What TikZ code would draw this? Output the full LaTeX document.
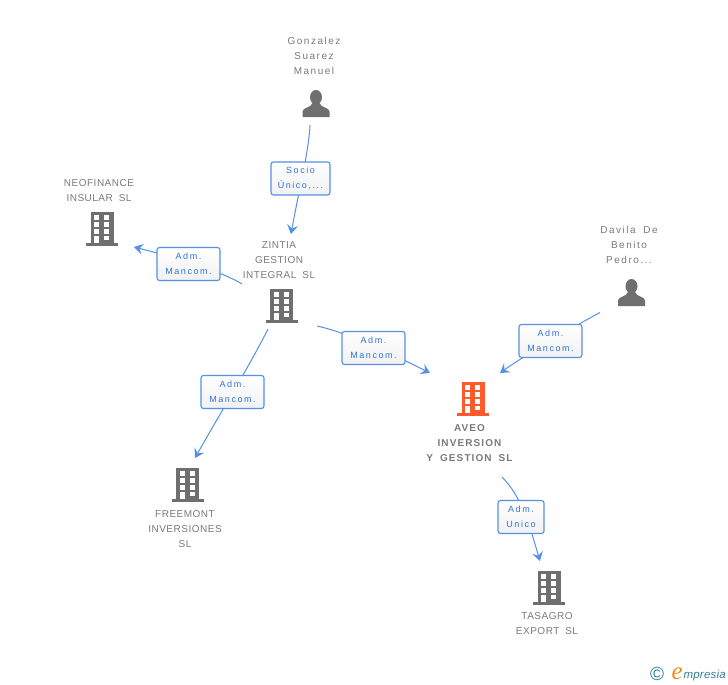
\documentclass[tikz,border=0pt]{standalone}
\usepackage{fontspec}
\setmainfont[LetterSpace=5,WordSpace=1.8]{Liberation Sans}
\newfontfamily\logofont{Liberation Sans}
\newfontfamily\logoinitial{Liberation Serif}
\usetikzlibrary{arrows.meta}
\definecolor{iconGray}{HTML}{6F6F6F}
\definecolor{iconOrange}{HTML}{FF5A2E}
\definecolor{nameGray}{HTML}{7A7A7A}
\definecolor{linkBlue}{HTML}{5590E6}
\definecolor{roleBlue}{HTML}{2F74DC}
\definecolor{boxShade}{HTML}{F1F1F1}
\definecolor{logoTeal}{HTML}{2F7F95}
\definecolor{logoOrange}{HTML}{F28A1E}
\tikzset{
  namelabel/.style={text=nameGray, font=\fontsize{10}{15}\selectfont, align=center, inner sep=0pt},
  personlabel/.style={namelabel, font=\fontsize{10}{15}\selectfont\addfontfeature{LetterSpace=15}},
  mainlabel/.style={namelabel, font=\fontsize{10}{15}\selectfont\bfseries\addfontfeature{LetterSpace=11}},
  rolebox/.style={draw=linkBlue, line width=1.1pt, rounded corners=2.5pt, top color=white, bottom color=boxShade,
    text=roleBlue, font=\fontsize{9}{15}\selectfont\addfontfeature{LetterSpace=17}, align=center, inner sep=0pt, minimum height=33pt},
  link/.style={draw=linkBlue, line width=1pt},
  tip/.style={-{Stealth[length=9pt, width=11pt, inset=3.5pt]}},
  pics/building/.style={code={
    \fill[#1] (-11.5,0) rectangle (11.5,31);
    \fill[#1] (-16,31) rectangle (16,34);
    \foreach \r in {3.3,10.3,17} {
      \fill[white] (-7.7,\r) rectangle (-2.7,\r+4.7);
      \fill[white] (2.3,\r) rectangle (7.3,\r+4.7);
    }
    \fill[white] (-7.7,23.5) rectangle (-2.7,31); % door
    \fill[white] (2.3,23.5) rectangle (7.3,28);
  }},
  pics/person/.style={code={
    \fill[#1] (0,7.2) ellipse (6 and 7.2);
    \fill[#1] (-13.5,27) -- (-13.5,21.5) .. controls (-13.5,17.5) and (-5,18) .. (-3.5,13)
      -- (3.5,13) .. controls (5,18) and (13.5,17.5) .. (13.5,21.5) -- (13.5,27) -- cycle;
  }}
}
\begin{document}
\begin{tikzpicture}[x=1pt, y=-1pt]
    \useasboundingbox (0,0) rectangle (728,685);
    % Free ends of the links
    \coordinate (gonzalezOut) at (310,125);
    \coordinate (zintiaIn) at (291,234);
    \coordinate (zintiaOutA) at (242,284);
    \coordinate (neoIn) at (134,247);
    \coordinate (zintiaOutB) at (317,326);
    \coordinate (aveoInA) at (430,373);
    \coordinate (davilaOut) at (600,312.5);
    \coordinate (aveoInB) at (500,373);
    \coordinate (zintiaOutC) at (268,329);
    \coordinate (freemontIn) at (195,458);
    \coordinate (aveoOut) at (502,477);
    \coordinate (tasagroIn) at (540,561);

    % Icons
    \pic (gonzalezIcon) at (316,90) {person=iconGray};
    \pic (davilaIcon) at (631.5,279) {person=iconGray};
    \pic (neoIcon) at (102,212) {building=iconGray};
    \pic (zintiaIcon) at (281.5,289) {building=iconGray};
    \pic (aveoIcon) at (473,382) {building=iconOrange};
    \pic (freemontIcon) at (187.5,468) {building=iconGray};
    \pic (tasagroIcon) at (549,571) {building=iconGray};

    % Names
    \node[personlabel] (gonzalez) at (314,56) {Gonzalez\\Suarez\\Manuel};
    \node[personlabel] (davila) at (629,245) {Davila De\\Benito\\Pedro...};
    \node[namelabel] (neo) at (99,190.5) {NEOFINANCE\\INSULAR SL};
    \node[namelabel] (zintia) at (279,260) {ZINTIA\\GESTION\\INTEGRAL SL};
    \node[mainlabel] (aveo) at (469.5,443) {AVEO\\INVERSION\\Y GESTION SL};
    \node[namelabel] (freemont) at (185,529) {FREEMONT\\INVERSIONES\\SL};
    \node[namelabel] (tasagro) at (547,623.5) {TASAGRO\\EXPORT SL};

    % Links first, boxes go over them
    \draw[link, tip] (gonzalezOut) .. controls (309,150) and (299,190) .. (zintiaIn);
    \draw[link, tip] (zintiaOutA) .. controls (215,268) and (165,255) .. (neoIn);
    \draw[link, tip] (zintiaOutB) .. controls (350,333) and (400,358) .. (aveoInA);
    \draw[link, tip] (davilaOut) .. controls (580,323) and (522,357) .. (aveoInB);
    \draw[link, tip] (zintiaOutC) .. controls (250,365) and (222,410) .. (freemontIn);
    \draw[link, tip] (aveoOut) .. controls (520,495) and (528,520) .. (tasagroIn);

    % Role boxes
    \node[rolebox, minimum width=59pt] (socioBox) at (300.5,178.5) {Socio\\Único,...};
    \node[rolebox, minimum width=63pt] (neoBox) at (188.5,264) {Adm.\\Mancom.};
    \node[rolebox, minimum width=63pt] (aveoBoxA) at (373.5,348) {Adm.\\Mancom.};
    \node[rolebox, minimum width=63pt] (aveoBoxB) at (550.5,341) {Adm.\\Mancom.};
    \node[rolebox, minimum width=63pt] (freemontBox) at (232.5,392) {Adm.\\Mancom.};
    \node[rolebox, minimum width=46pt] (tasagroBox) at (521,517) {Adm.\\Unico};

    % Logo
    \node[text=logoTeal, font=\logofont\fontsize{19}{19}\selectfont, inner sep=0pt] (logoMark) at (657,674) {©};
    \node[text=logoTeal, font=\logofont\itshape\fontsize{11.5}{12}\selectfont\addfontfeature{LetterSpace=2}, inner sep=0pt, anchor=base east] (logoText) at (726,678) {mpresia};
    \node[text=logoOrange, font=\logoinitial\itshape\fontsize{25}{25}\selectfont, inner sep=0pt, anchor=base east] (logoInitial) at (683,679) {e};
\end{tikzpicture}
\end{document}
